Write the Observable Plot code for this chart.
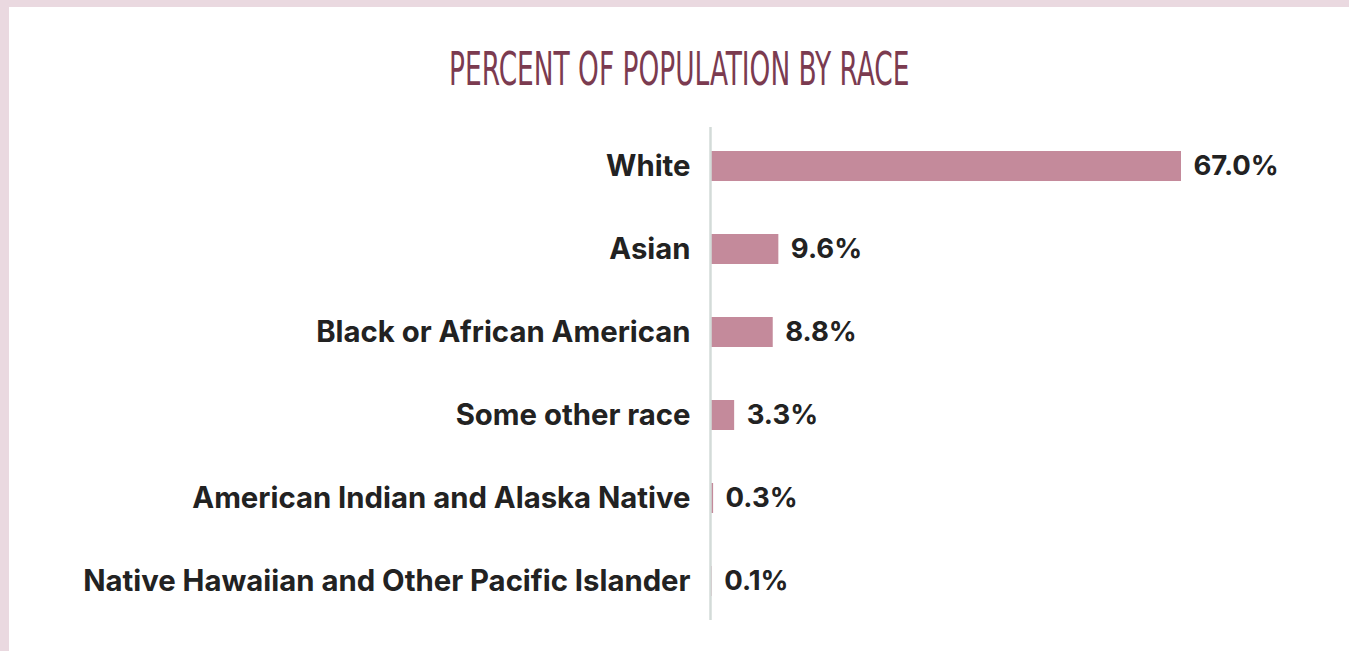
<!DOCTYPE html>
<html>
<head>
<meta charset="utf-8">
<script src="https://cdn.jsdelivr.net/npm/d3@7"></script>
<script src="https://cdn.jsdelivr.net/npm/@observablehq/plot@0.6"></script>
<style>
  html, body { margin: 0; padding: 0; }
  body { width: 1349px; height: 651px; background: #ead9e0; position: relative; overflow: hidden; }
  #panel { position: absolute; left: 9px; top: 7px; width: 1340px; height: 644px; background: #ffffff; }
  #title { position: absolute; left: 0; width: 1340px; top: 38px; text-align: center; line-height: 1; }
  #title span { display: inline-block; transform: scaleX(0.625); transform-origin: center;
           font-family: "DejaVu Sans Condensed", "Liberation Sans Narrow", sans-serif;
           font-size: 47px; color: #7b3b50; }
  #chart { position: absolute; left: 0; top: 77px; }
  #chart svg g[aria-label="y-axis tick label"] text { font-size: 29.3px; }
</style>
</head>
<body>
<div id="panel">
  <div id="title"><span>PERCENT OF POPULATION BY RACE</span></div>
  <div id="chart"></div>
</div>
<script>
const categories = [
  "White",
  "Asian",
  "Black or African American",
  "Some other race",
  "American Indian and Alaska Native",
  "Native Hawaiian and Other Pacific Islander"
];
const values = [67.0, 9.6, 8.8, 3.3, 0.3, 0.1];

const data = categories.map((c, i) => ({race: c, pct: values[i]}));

const chart = Plot.plot({
  width: 1340,
  height: 556,
  marginLeft: 702,
  marginRight: 168,
  marginTop: 43,
  marginBottom: 20,
  style: {
    fontFamily: "Inter, 'Liberation Sans', Arial, sans-serif",
    fontSize: "27.5px",
    fontWeight: "700",
    color: "#222222",
    background: "transparent"
  },
  x: {domain: [0, 67], axis: null},
  y: {domain: categories, round: false, paddingInner: 0.6386, paddingOuter: 0.2893, label: null, tickSize: 0, tickPadding: 21},
  marks: [
    Plot.barX(data, {x: "pct", y: "race", fill: "#c48a9b"}),
    Plot.ruleX([0], {stroke: "#d3dbd8", strokeWidth: 2.5, dx: -1}),
    Plot.text(data, {x: "pct", y: "race", text: d => d.pct.toFixed(1) + "%", dx: 12, textAnchor: "start", fill: "#222222"})
  ]
});
document.getElementById("chart").appendChild(chart);
</script>
</body>
</html>
